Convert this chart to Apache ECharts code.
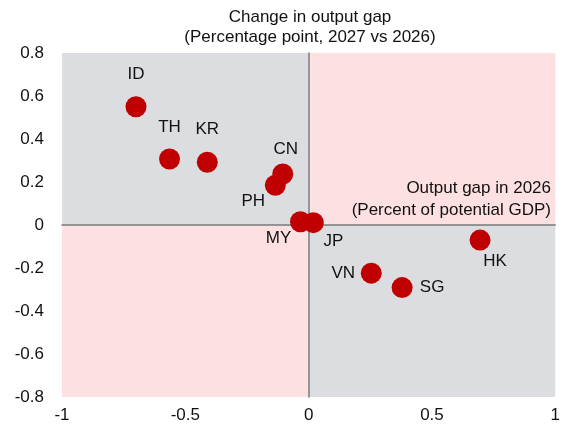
<!DOCTYPE html>
<html>
<head>
<meta charset="utf-8">
<script src="https://cdn.jsdelivr.net/npm/echarts@6/dist/echarts.min.js"></script>
<style>
  html, body { margin: 0; padding: 0; background: #fff; }
  #chart { width: 563px; height: 427px; }
</style>
</head>
<body>
<div id="chart"></div>
<script>
// Economies and their output-gap readings
const economies = ['ID', 'TH', 'KR', 'CN', 'PH', 'MY', 'JP', 'HK', 'VN', 'SG'];
const gap2026 = [-0.70, -0.564, -0.411, -0.105, -0.135, -0.033, 0.019, 0.695, 0.254, 0.379];
const gapChange = [0.550, 0.307, 0.292, 0.237, 0.185, 0.015, 0.011, -0.070, -0.224, -0.291];
// Label placement per economy: [dx, dy] from the marker centre
const labelOffsets = [[0, -32], [0, -32], [0, -33], [3, -25], [-22, 16], [-22, 17], [20, 19], [15, 21], [-28, 0], [30, 0]];

const xTicks = [-1, -0.5, 0, 0.5, 1];
const yTicks = [-0.8, -0.6, -0.4, -0.2, 0, 0.2, 0.4, 0.6, 0.8];
const titleLines = ['Change in output gap', '(Percentage point, 2027 vs 2026)'];
const xNameLines = ['Output gap in 2026', '(Percent of potential GDP)'];

const xMin = -1, xMax = 1, yMin = -0.8, yMax = 0.8;
const FONT = '"Liberation Sans", Arial, sans-serif';
const grey = '#dcdde0';
const pink = '#fde0e1';

const points = economies.map((name, i) => ({ name: name, value: [gap2026[i], gapChange[i]] }));

function textLines(lines, x, y, align, step) {
  return lines.map((t, i) => ({
    type: 'text', x: x, y: y + i * step, silent: true,
    style: { text: t, fontFamily: FONT, fontSize: 17, fill: '#111', align: align, verticalAlign: 'middle' }
  }));
}

const chart = echarts.init(document.getElementById('chart'));
chart.setOption({
  animation: false,
  grid: { left: 62, right: 7, top: 53, bottom: 30, containLabel: false },
  xAxis: {
    type: 'value', min: xMin, max: xMax, interval: 0.5,
    axisLine: { show: true, onZero: true, lineStyle: { color: '#7a7a7a', width: 1.5 } },
    axisTick: { show: false },
    splitLine: { show: false },
    axisLabel: {
      fontFamily: FONT, fontSize: 17, color: '#111', margin: 10,
      formatter: v => xTicks.includes(v) ? String(v) : ''
    }
  },
  yAxis: {
    type: 'value', min: yMin, max: yMax, interval: 0.2,
    axisLine: { show: true, onZero: true, lineStyle: { color: '#7a7a7a', width: 1.5 } },
    axisTick: { show: false },
    splitLine: { show: false },
    axisLabel: {
      fontFamily: FONT, fontSize: 17, color: '#111', margin: 18,
      formatter: v => {
        const t = yTicks.find(k => Math.abs(k - v) < 1e-9);
        return t === undefined ? '' : (t === 0 ? '0' : t.toFixed(1));
      }
    }
  },
  graphic: [
    ...textLines(titleLines, 310, 17, 'center', 20),
    ...textLines(xNameLines, 551, 188, 'right', 22)
  ],
  series: [{
    type: 'scatter',
    data: points,
    symbolSize: 21,
    itemStyle: { color: '#c00000', opacity: 1 },
    label: {
      show: true, position: 'inside',
      formatter: p => p.name,
      fontFamily: FONT, fontSize: 17, color: '#111'
    },
    labelLayout: p => ({ dx: labelOffsets[p.dataIndex][0], dy: labelOffsets[p.dataIndex][1], hideOverlap: false }),
    markArea: {
      silent: true,
      z: -1,
      data: [
        [{ coord: [xMin, 0], itemStyle: { color: grey } }, { coord: [0, yMax] }],
        [{ coord: [0, 0], itemStyle: { color: pink } }, { coord: [xMax, yMax] }],
        [{ coord: [xMin, yMin], itemStyle: { color: pink } }, { coord: [0, 0] }],
        [{ coord: [0, yMin], itemStyle: { color: grey } }, { coord: [xMax, 0] }]
      ]
    }
  }]
});
</script>
</body>
</html>
